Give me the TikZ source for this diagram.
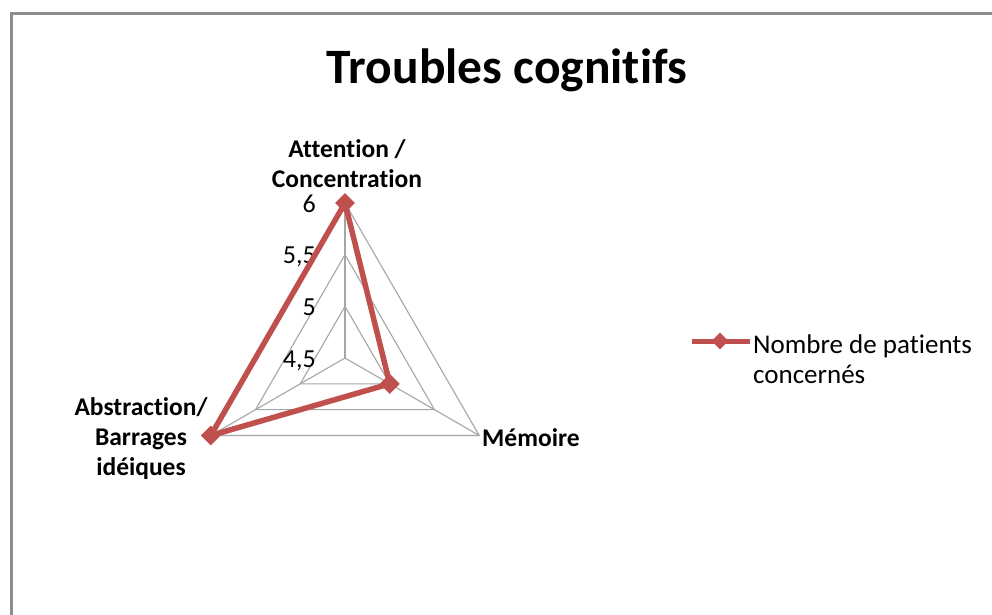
\documentclass[tikz,border=0pt]{standalone}
\usepackage{fontspec}
\setmainfont{Carlito}[Ligatures={NoCommon}]
\usetikzlibrary{shapes.geometric}
\definecolor{serie}{HTML}{C0504D}
\definecolor{grille}{HTML}{A6A6A6}
\definecolor{cadre}{HTML}{8C8C8C}
\tikzset{
  grid line/.style={draw=grille, line width=1.1pt},
  data line/.style={draw=serie, line width=5.5pt, line join=round},
  marker/.style={diamond, fill=serie, inner sep=0pt, minimum size=20pt},
  axis label/.style={font=\fontsize{25.5}{30}\selectfont\bfseries, inner sep=0pt, align=center},
  tick label/.style={font=\fontsize{26}{29}\selectfont, inner sep=0pt, anchor=base east},
  legend text/.style={font=\fontsize{27}{30}\selectfont, inner sep=0pt, align=left}
}
\begin{document}
\begin{tikzpicture}[x=1pt,y=-1pt]
\useasboundingbox (0,0) rectangle (992,614);
\fill[white] (0,0) rectangle (992,614);
% frame
\draw[cadre, line width=3pt] (11,616) -- (11,13) -- (994,13);
% title
\node[font=\fontsize{49.5}{54}\selectfont\bfseries, anchor=base, inner sep=0pt] (title) at (507,83) {Troubles cognitifs};
% radar grid
\coordinate (C) at (345,358);
\coordinate (T1) at (345,306.33); \coordinate (L1) at (300.25,383.83); \coordinate (R1) at (389.75,383.83);
\coordinate (T2) at (345,254.67); \coordinate (L2) at (255.51,409.67); \coordinate (R2) at (434.49,409.67);
\coordinate (T3) at (345,203);    \coordinate (L3) at (210.77,435.5); \coordinate (R3) at (479.23,435.5);
\draw[grid line] (T1) -- (R1) -- (L1) -- cycle;
\draw[grid line] (T2) -- (R2) -- (L2) -- cycle;
\draw[grid line] (T3) -- (R3) -- (L3) -- cycle;
\draw[grid line] (C) -- (T3);
\draw[grid line] (C) -- (L3);
\draw[grid line] (C) -- (R3);
% tick labels
\node[tick label] (t6) at (316,212) {6};
\node[tick label] (t55) at (316,263.7) {5,5};
\node[tick label] (t5) at (316,315.3) {5};
\node[tick label] (t45) at (316,367) {4,5};
% data
\coordinate (dA) at (T3);
\coordinate (dM) at (R1);
\coordinate (dB) at (L3);
\draw[data line] (dA) -- (dM) -- (dB) -- cycle;
\node[marker] (mA) at (dA) {};
\node[marker] (mM) at (dM) {};
\node[marker] (mB) at (dB) {};
% axis labels
\node[axis label, anchor=base] (labA) at (347,187) {Attention /\\Concentration};
\node[axis label, anchor=base] (labB) at (141,475) {Abstraction/\\Barrages\\idéiques};
\node[axis label, anchor=base west] (labM) at (482,446) {Mémoire};
% legend
\coordinate (lg1) at (692,341);
\coordinate (lg2) at (750,341);
\draw[serie, line width=5pt] (lg1) -- (lg2);
\node[marker, minimum size=17pt] (lgm) at (720,341) {};
\node[legend text, anchor=base west] (lgt) at (753,383) {Nombre de patients\\concernés};
\end{tikzpicture}
\end{document}
